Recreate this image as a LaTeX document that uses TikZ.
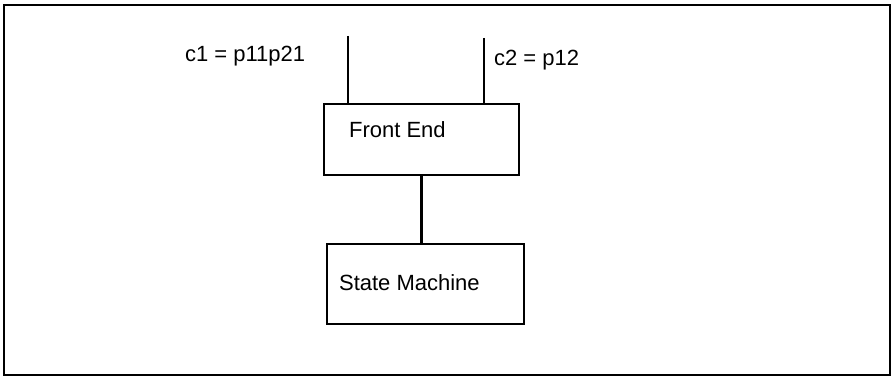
\documentclass[tikz,border=0pt]{standalone}
\usepackage{fontspec}
\setmainfont{Liberation Sans}
\begin{document}
\begin{tikzpicture}[x=1pt,y=-1pt,line width=2.2pt,
  box/.style={draw, rectangle, line width=2.2pt, inner sep=0pt},
  txt/.style={font=\fontsize{22}{26}\selectfont, inner sep=0pt, anchor=base west}]
\useasboundingbox (0,0) rectangle (892,377);
\draw[line width=2.2pt] (4,5) rectangle (890,375);
\node[box, minimum width=195pt, minimum height=71pt] (fe) at (421.5,139.5) {};
\node[txt] (fet) at (348,138) {Front End};
\node[box, minimum width=197pt, minimum height=80pt] (sm) at (425.5,284) {};
\node[txt] (smt) at (338,290) {State Machine};
\coordinate (c1top) at (347.7,36);
\coordinate (c2top) at (484,38);
\draw (c1top) -- (c1top |- fe.north);
\draw (c2top) -- (c2top |- fe.north);
\draw (fe.south) -- (fe.south |- sm.north);
\node[txt] (c1) at (184,62) {c1 = p11p21};
\node[txt] (c2) at (493,66) {c2 = p12};
\end{tikzpicture}
\end{document}
